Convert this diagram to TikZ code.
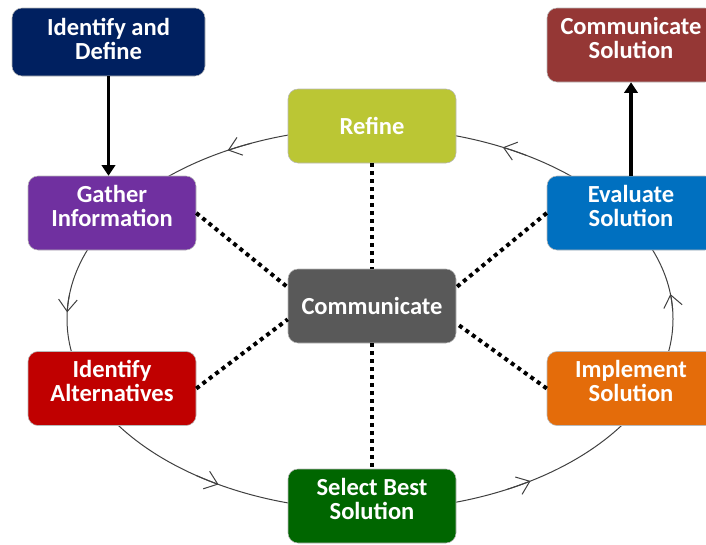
\documentclass[tikz,border=0pt]{standalone}
\usepackage{fontspec}
\setmainfont{Carlito}
\usepackage{tikz}
\usetikzlibrary{arrows.meta}
\tikzset{every picture/.style={line width=0.75pt}}

\definecolor{definenavy}{RGB}{0,32,96}
\definecolor{solred}{RGB}{149,55,53}
\definecolor{refinegreen}{RGB}{187,198,52}
\definecolor{gatherpurple}{RGB}{112,48,160}
\definecolor{evalblue}{RGB}{0,112,192}
\definecolor{commgray}{RGB}{89,89,89}
\definecolor{altred}{RGB}{192,0,0}
\definecolor{implorange}{RGB}{228,108,10}
\definecolor{selectgreen}{RGB}{0,102,0}
\definecolor{loopgray}{RGB}{64,64,64}

\tikzset{
  procbox/.style={rounded corners=7.5pt, draw=gray!55, line width=0.4pt,
    minimum width=126pt, minimum height=55.5pt, inner sep=2pt, align=center,
    text=white, font=\bfseries\fontsize{18.4}{18}\selectfont},
  twoline/.style={text depth=11pt},
  dotlink/.style={line width=3pt, dash pattern=on 3pt off 3pt},
  steparrow/.style={line width=2.6pt, -{Triangle[length=8pt,width=10pt]}}
}

\begin{document}
\begin{tikzpicture}[x=0.75pt,y=0.75pt,yscale=-1,xscale=1]
		\useasboundingbox (0,0) rectangle (706,544);
		
		%Shape: Ellipse [loop]
		\coordinate (ctr) at (370,319);
		\draw [color=loopgray] (ctr) ellipse [x radius=303, y radius=191];
		\foreach \a in {352.5,58,120,182,242,296}
		  \draw [color=loopgray, -{Straight Barb[length=9pt,width=14pt]}] ([shift={(\a+5:303 and 191)}]ctr) arc [start angle=\a+5, end angle=\a, x radius=303, y radius=191];
		
		%Boxes
		\node [procbox, twoline, text depth=5pt, fill=definenavy, minimum width=144.75pt, minimum height=51pt] (define) at (108.5,42) {Identify and\\Define};
		\node [procbox, twoline, fill=solred] (commsol) at (631,45) {Communicate\\Solution};
		\node [procbox, fill=refinegreen] (refine) at (372,126) {Refine};
		\node [procbox, twoline, fill=gatherpurple] (gather) at (112,213) {Gather\\Information};
		\node [procbox, twoline, fill=evalblue] (evaluate) at (631,213) {Evaluate\\Solution};
		\node [procbox, fill=commgray] (comm) at (372,306) {Communicate};
		\node [procbox, twoline, fill=altred] (altern) at (112,388.5) {Identify\\Alternatives};
		\node [procbox, twoline, fill=implorange] (implement) at (631,388.5) {Implement\\Solution};
		\node [procbox, twoline, fill=selectgreen] (select) at (372,506) {Select Best\\Solution};
		
		%Dotted links to the centre
		\draw [dotlink] (refine.south) -- (comm.north);
		\draw [dotlink] (comm.south) -- (select.north);
		\draw [dotlink] (gather.east) -- ([yshift=-14pt]comm.west);
		\draw [dotlink] (altern.east) -- ([yshift=10pt]comm.west);
		\draw [dotlink] (evaluate.west) -- ([yshift=-14pt]comm.east);
		\draw [dotlink] (implement.west) -- ([yshift=13pt]comm.east);
		
		%Straight arrows
		\draw [steparrow] (define.south) -- (define.south |- gather.north);
		\draw [steparrow] (evaluate.north) -- (commsol.south);
		
\end{tikzpicture}
\end{document}
